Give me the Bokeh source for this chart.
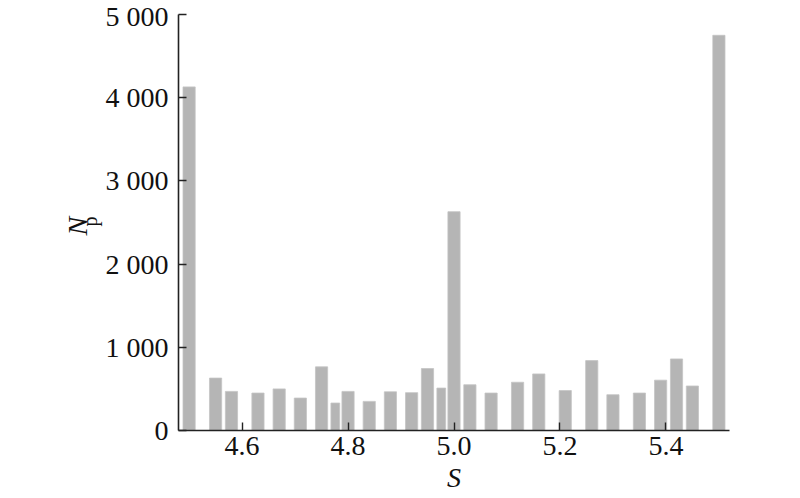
from bokeh.plotting import figure
from bokeh.models import Range1d, FixedTicker, Title
from bokeh.embed import file_html
from bokeh.resources import INLINE

# Data
s_values = [4.50, 4.55, 4.58, 4.63, 4.67, 4.71, 4.75, 4.776, 4.80, 4.84, 4.88, 4.92, 4.95, 4.976,
            5.00, 5.03, 5.07, 5.12, 5.16, 5.21, 5.26, 5.30, 5.35, 5.39, 5.42, 5.45, 5.50]
np_values = [4130, 630, 470, 450, 500, 390, 765, 330, 470, 350, 465, 455, 745, 510,
             2630, 550, 450, 580, 680, 480, 840, 430, 450, 605, 860, 535, 4750]
bar_widths = [0.023] * len(s_values)
bar_widths[7] = 0.0165
bar_widths[13] = 0.0165

x_ticks = [4.6, 4.8, 5.0, 5.2, 5.4]
x_tick_labels = ["4.6", "4.8", "5.0", "5.2", "5.4"]
y_ticks = [0, 1000, 2000, 3000, 4000, 5000]
y_tick_labels = ["0", "1 000", "2 000", "3 000", "4 000", "5 000"]

FONT = "Liberation Serif"
AX = "#222222"

p = figure(frame_width=551, frame_height=416, output_backend="svg", toolbar_location=None,
           x_range=Range1d(4.48, 5.52), y_range=Range1d(0, 5000),
           min_border_left=178, min_border_right=50, min_border_top=14, min_border_bottom=60)
p.outline_line_color = None
p.grid.visible = False
p.background_fill_color = "white"
p.border_fill_color = "white"

p.vbar(x=s_values, top=np_values, bottom=0, width=bar_widths,
       fill_color="#b5b5b5", line_color="#c4c4c4", line_width=0.8)

for ax in (p.xaxis[0], p.yaxis[0]):
    ax.axis_line_color = AX
    ax.axis_line_width = 1.6
    ax.major_tick_line_color = AX
    ax.major_tick_line_width = 1.4
    ax.major_tick_in = 8
    ax.major_tick_out = 0
    ax.minor_tick_line_color = None
    ax.major_label_text_font = FONT
    ax.major_label_text_font_size = "28px"
    ax.major_label_text_color = "#111111"

p.xaxis.ticker = FixedTicker(ticks=x_ticks)
p.xaxis.major_label_overrides = {t: l for t, l in zip(x_ticks, x_tick_labels)}
p.xaxis.major_label_standoff = 6
p.yaxis.ticker = FixedTicker(ticks=y_ticks)
p.yaxis.major_label_overrides = {t: l for t, l in zip(y_ticks, y_tick_labels)}
p.yaxis.major_label_standoff = 10

# Axis titles as side-panel titles (real text)
p.add_layout(Title(text="S", text_font=FONT, text_font_style="italic", text_font_size="28px",
                   text_color="#111111", align="center", standoff=4), "below")
p.add_layout(Title(text="p", text_font=FONT, text_font_style="normal", text_font_size="20px",
                   text_color="#111111", align="left", offset=204, standoff=0,
                   vertical_align="top"), "left")
p.add_layout(Title(text="N", text_font=FONT, text_font_style="italic", text_font_size="28px",
                   text_color="#111111", align="left", offset=195, standoff=-28,
                   vertical_align="bottom"), "left")

open("out.html", "w").write(file_html(p, INLINE))
